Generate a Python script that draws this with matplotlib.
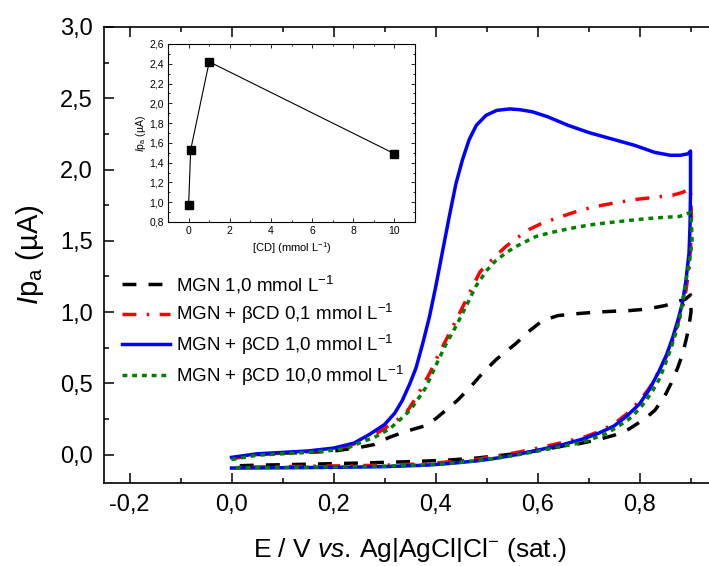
import matplotlib
matplotlib.use("Agg")
import matplotlib.pyplot as plt
from matplotlib.ticker import MultipleLocator, FuncFormatter

plt.rcParams['font.family'] = ['Liberation Sans', 'DejaVu Sans']
plt.rcParams['mathtext.fontset'] = 'custom'
plt.rcParams['mathtext.rm'] = 'Liberation Sans'
plt.rcParams['mathtext.it'] = 'Liberation Sans:italic'

# --- main voltammograms (E in V, current in uA), forward then reverse scan ---
blue_fwd_E = [0.00, 0.05, 0.10, 0.15, 0.20, 0.24, 0.27, 0.30, 0.32, 0.335, 0.35, 0.362, 0.375,
              0.388, 0.40, 0.414, 0.427, 0.44, 0.453, 0.466, 0.48, 0.499, 0.52, 0.545, 0.565,
              0.59, 0.62, 0.66, 0.70, 0.74, 0.79, 0.83, 0.86, 0.88, 0.895, 0.90]
blue_fwd_I = [-0.02, 0.005, 0.015, 0.025, 0.045, 0.08, 0.14, 0.21, 0.29, 0.38, 0.50, 0.61, 0.78,
              0.965, 1.17, 1.43, 1.67, 1.90, 2.07, 2.21, 2.31, 2.38, 2.415, 2.425, 2.42,
              2.405, 2.37, 2.31, 2.26, 2.22, 2.17, 2.12, 2.10, 2.10, 2.11, 2.13]
blue_rev_E = [0.90, 0.900, 0.899, 0.897, 0.891, 0.884, 0.875, 0.865, 0.853, 0.839, 0.82, 0.80,
              0.775, 0.75, 0.72, 0.69, 0.65, 0.60, 0.56, 0.52, 0.48, 0.43, 0.38, 0.30, 0.20,
              0.10, 0.00]
blue_rev_I = [2.13, 1.85, 1.60, 1.41, 1.22, 1.06, 0.94, 0.82, 0.70, 0.59, 0.46, 0.355,
              0.27, 0.20, 0.15, 0.11, 0.07, 0.03, 0.0, -0.025, -0.045, -0.062, -0.075, -0.085,
              -0.09, -0.093, -0.095]

red_fwd_E = [0.00, 0.05, 0.10, 0.15, 0.20, 0.23, 0.26, 0.29, 0.32, 0.342, 0.362, 0.378, 0.39,
             0.40, 0.42, 0.44, 0.458, 0.473, 0.487, 0.50, 0.52, 0.538, 0.56, 0.584, 0.61, 0.643,
             0.68, 0.714, 0.75, 0.793, 0.83, 0.865, 0.885, 0.90]
red_fwd_I = [-0.03, 0.0, 0.01, 0.02, 0.04, 0.06, 0.10, 0.16, 0.23, 0.29, 0.40, 0.50, 0.58,
             0.66, 0.80, 0.94, 1.07, 1.18, 1.28, 1.33, 1.40, 1.46, 1.52, 1.58, 1.625, 1.665,
             1.71, 1.74, 1.765, 1.79, 1.805, 1.82, 1.84, 1.87]
red_rev_E = [0.90, 0.902, 0.900, 0.897, 0.891, 0.884, 0.875, 0.865, 0.853, 0.839, 0.82, 0.80,
             0.775, 0.75, 0.72, 0.69, 0.65, 0.60, 0.56, 0.52, 0.48, 0.43, 0.38, 0.30, 0.20,
             0.10, 0.00]
red_rev_I = [1.87, 1.65, 1.45, 1.30, 1.15, 1.02, 0.92, 0.80, 0.69, 0.59, 0.47, 0.375,
             0.285, 0.215, 0.16, 0.12, 0.085, 0.045, 0.015, -0.01, -0.035, -0.05, -0.065, -0.075,
             -0.08, -0.085, -0.09]

green_fwd_E = [0.00, 0.05, 0.10, 0.15, 0.20, 0.227, 0.257, 0.28, 0.31, 0.332, 0.35, 0.362,
               0.381, 0.40, 0.42, 0.44, 0.46, 0.479, 0.50, 0.518, 0.54, 0.558, 0.58, 0.597,
               0.623, 0.662, 0.70, 0.734, 0.773, 0.813, 0.85, 0.878, 0.901]
green_fwd_I = [-0.035, -0.005, 0.005, 0.015, 0.03, 0.045, 0.09, 0.12, 0.18, 0.25, 0.31, 0.37,
               0.47, 0.62, 0.77, 0.90, 1.04, 1.18, 1.29, 1.36, 1.42, 1.46, 1.50, 1.53,
               1.555, 1.585, 1.61, 1.625, 1.64, 1.655, 1.665, 1.67, 1.70]
green_rev_E = [0.901, 0.903, 0.898, 0.891, 0.885, 0.878, 0.870, 0.862, 0.85, 0.839, 0.826,
               0.813, 0.80, 0.78, 0.755, 0.734, 0.70, 0.675, 0.623, 0.58, 0.54, 0.50, 0.45,
               0.40, 0.30, 0.20, 0.10, 0.00]
green_rev_I = [1.70, 1.50, 1.35, 1.22, 1.08, 0.94, 0.84, 0.75, 0.63, 0.53, 0.45,
               0.38, 0.32, 0.25, 0.19, 0.146, 0.10, 0.076, 0.04, 0.01, -0.015, -0.035, -0.055,
               -0.07, -0.082, -0.088, -0.09, -0.092]

black_fwd_E = [0.00, 0.05, 0.10, 0.15, 0.20, 0.254, 0.28, 0.309, 0.34, 0.378, 0.40, 0.42,
               0.443, 0.47, 0.492, 0.52, 0.558, 0.585, 0.61, 0.64, 0.682, 0.72, 0.747, 0.78,
               0.813, 0.85, 0.871, 0.89, 0.90]
black_fwd_I = [-0.025, 0.0, 0.01, 0.015, 0.024, 0.052, 0.07, 0.12, 0.16, 0.20, 0.25, 0.31,
               0.38, 0.48, 0.57, 0.67, 0.78, 0.87, 0.94, 0.975, 0.99, 1.0, 1.005, 1.01,
               1.02, 1.045, 1.07, 1.09, 1.12]
black_rev_E = [0.90, 0.901, 0.896, 0.891, 0.884, 0.875, 0.862, 0.848, 0.83, 0.81, 0.78, 0.75,
               0.714, 0.68, 0.656, 0.62, 0.58, 0.53, 0.48, 0.42, 0.35, 0.25, 0.15, 0.05, 0.00]
black_rev_I = [1.12, 1.0, 0.88, 0.80, 0.70, 0.61, 0.50, 0.40, 0.31, 0.25, 0.18, 0.135,
               0.10, 0.075, 0.064, 0.04, 0.015, -0.005, -0.025, -0.04, -0.05, -0.06, -0.068,
               -0.075, -0.08]

labels = ["MGN 1,0 mmol L$^{-1}$",
          "MGN + \u03b2CD 0,1 mmol L$^{-1}$",
          "MGN + \u03b2CD 1,0 mmol L$^{-1}$",
          "MGN + \u03b2CD 10,0 mmol L$^{-1}$"]

# --- inset: peak current vs. cyclodextrin concentration ---
cd_conc = [0, 0.1, 1, 10]
ipa = [0.97, 1.53, 2.42, 1.49]

comma = FuncFormatter(lambda v, p: ('%.1f' % v).replace('.', ','))

fig = plt.figure(figsize=(7.09, 5.66), dpi=100)
ax = fig.add_axes([0.1467, 0.1466, 0.8632, 0.8057])

lw = 2.5
series = [
    (black_fwd_E + black_rev_E, black_fwd_I + black_rev_I, 'black', (4, 3.5)),
    (red_fwd_E + red_rev_E, red_fwd_I + red_rev_I, 'red', (4, 3, 0.7, 3)),
    (blue_fwd_E + blue_rev_E, blue_fwd_I + blue_rev_I, 'blue', None),
    (green_fwd_E + green_rev_E, green_fwd_I + green_rev_I, 'green', (1.4, 1.4)),
]
for (E, I, c, d), lab in zip(series, labels):
    if d is None:
        ax.plot(E, I, color=c, lw=lw, label=lab)
    else:
        ax.plot(E, I, color=c, lw=lw, dashes=d, label=lab)

ax.set_xlim(-0.25, 0.95)
ax.set_ylim(-0.2, 3.0)
ax.xaxis.set_major_locator(MultipleLocator(0.2))
ax.xaxis.set_minor_locator(MultipleLocator(0.1))
ax.yaxis.set_major_locator(MultipleLocator(0.5))
ax.yaxis.set_minor_locator(MultipleLocator(0.25))
ax.xaxis.set_major_formatter(comma)
ax.yaxis.set_major_formatter(comma)
ax.tick_params(which='both', direction='in', top=True, right=False, labelsize=17, width=1.1)
ax.tick_params(which='major', length=7, pad=8)
ax.tick_params(which='minor', length=3.5)
for s in ax.spines.values():
    s.set_linewidth(1.2)

ax.set_xlabel("E / V $\\mathit{vs.}\\,$Ag|AgCl|Cl$^{-}$ (sat.)", fontsize=19, labelpad=14)
ax.set_ylabel("$I$p$_\\mathrm{a}$ ($\\mathrm{\u00b5}$A)", fontsize=21, labelpad=10)

ax.legend(loc='upper left', bbox_to_anchor=(0.0165, 0.476), frameon=False, fontsize=13.5,
          handlelength=2.6, handletextpad=0.3, labelspacing=0.35, borderaxespad=0)

# inset
axi = fig.add_axes([0.2370, 0.6078, 0.3484, 0.3145])
axi.plot(cd_conc, ipa, color='black', lw=0.8, marker='s', ms=5.5)
axi.set_xlim(-1, 11)
axi.set_ylim(0.8, 2.6)
axi.xaxis.set_major_locator(MultipleLocator(2))
axi.xaxis.set_minor_locator(MultipleLocator(1))
axi.yaxis.set_major_locator(MultipleLocator(0.2))
axi.yaxis.set_minor_locator(MultipleLocator(0.1))
axi.yaxis.set_major_formatter(comma)
axi.tick_params(which='both', direction='in', top=True, right=True, labelsize=7.5, width=0.6)
axi.tick_params(which='major', length=3, pad=3)
axi.tick_params(which='minor', length=1.5)
for s in axi.spines.values():
    s.set_linewidth(0.8)
axi.set_xlabel("[CD] (mmol L$^{-1}$)", fontsize=8, labelpad=3)
axi.set_ylabel("$I$p$_\\mathrm{a}$ ($\\mathrm{\u00b5}$A)", fontsize=7.5, labelpad=1)

fig.savefig("out.png", dpi=100)
